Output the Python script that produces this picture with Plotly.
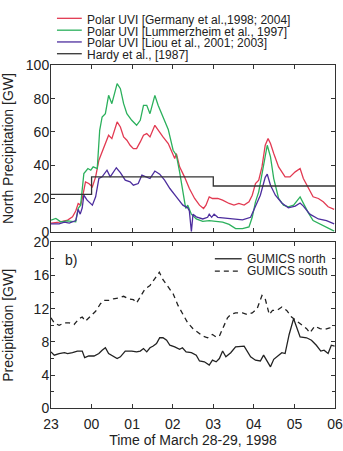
import plotly.graph_objects as go
from plotly.subplots import make_subplots

# ---------------- data ----------------
tick_labels = ["23", "00", "01", "02", "03", "04", "05", "06"]
tick_hours = [0, 1, 2, 3, 4, 5, 6, 7]

series_names = [
    "Polar UVI [Germany et al.,1998; 2004]",
    "Polar UVI [Lummerzheim et al., 1997]",
    "Polar UVI [Liou et al., 2001; 2003]",
    "Hardy et al., [1987]",
]
series_colors = ["#e23a52", "#2bb05c", "#4d2e9e", "#333333"]

germany_t = [0.00, 0.20, 0.41, 0.53, 0.61, 0.67, 0.73, 0.77, 0.85, 0.93, 1.02, 1.10, 1.18, 1.26, 1.34,
             1.42, 1.50, 1.63, 1.71, 1.79, 1.87, 1.95, 2.03, 2.11, 2.20, 2.28, 2.36, 2.44, 2.56, 2.64,
             2.76, 2.89, 2.97, 3.05, 3.09, 3.17, 3.29, 3.41, 3.54, 3.66, 3.76, 3.82, 3.90, 3.98, 4.11,
             4.23, 4.39, 4.51, 4.63, 4.76, 4.88, 4.96, 5.04, 5.12, 5.20, 5.28, 5.35, 5.41, 5.49, 5.61,
             5.77, 5.89, 6.02, 6.14, 6.22, 6.34, 6.46, 6.59, 6.71, 6.83, 6.98]
germany_v = [5.2, 5.8, 7, 9, 12.5, 17, 16, 20, 30, 29, 27, 33, 43, 48, 53,
             58, 56, 66, 63, 57, 55, 52, 50, 50, 54, 58, 59, 57, 64, 61,
             57, 53, 48, 44, 47, 39, 33, 26, 20, 16, 14, 16, 21, 20, 20,
             19, 17, 16, 17, 16, 18, 22, 29, 31, 39, 52, 56, 53, 47, 39,
             33, 33, 36, 38, 32, 26, 21, 20, 18, 15, 13.5]

lummer_t = [0.00, 0.12, 0.24, 0.41, 0.61, 0.67, 0.73, 0.77, 0.81, 0.91, 0.98, 1.04, 1.14, 1.20, 1.26,
            1.34, 1.42, 1.50, 1.63, 1.71, 1.79, 1.87, 1.99, 2.11, 2.20, 2.28, 2.36, 2.44, 2.56, 2.64,
            2.76, 2.89, 3.01, 3.09, 3.17, 3.25, 3.32, 3.37, 3.46, 3.58, 3.74, 3.90, 4.07, 4.23, 4.39,
            4.55, 4.72, 4.88, 4.96, 5.04, 5.12, 5.24, 5.33, 5.41, 5.49, 5.61, 5.73, 5.85, 5.98, 6.14,
            6.22, 6.34, 6.46, 6.63, 6.79, 6.98]
lummer_v = [7, 8, 6, 6.5, 6, 14, 16, 24, 35, 38, 37, 39, 38, 61, 69,
            71, 82, 77, 89, 86, 77, 71, 67, 64, 67, 76, 76, 71, 82, 76,
            69, 61.5, 49, 46, 36, 24, 14, 16, 10.6, 7.7, 6.3, 6.7, 6.3, 5.8, 4.4,
            1.9, 1.9, 2.9, 8.7, 18, 24, 41, 52, 45, 32, 20, 16, 15, 16, 21,
            17, 11.5, 6.7, 4.8, 2.9, 0.4]

liou_t = [0.00, 0.20, 0.33, 0.45, 0.61, 0.67, 0.72, 0.77, 0.81, 0.89, 1.02, 1.10, 1.18, 1.26, 1.38,
          1.46, 1.61, 1.71, 1.83, 1.95, 2.03, 2.15, 2.24, 2.36, 2.44, 2.56, 2.68, 2.80, 2.93, 3.09,
          3.25, 3.37, 3.41, 3.46, 3.50, 3.58, 3.74, 3.86, 3.90, 3.96, 4.02, 4.11, 4.23, 4.47, 4.72,
          4.92, 5.04, 5.16, 5.28, 5.33, 5.41, 5.53, 5.69, 5.85, 6.02, 6.14, 6.22, 6.38, 6.59, 6.79, 6.98]
liou_v = [4.8, 4.8, 5.8, 5.2, 6.7, 13.5, 10.6, 14.4, 22, 19, 16, 21, 32, 33, 37,
          33, 38.5, 35.6, 31, 30, 28, 29, 34, 33, 32, 36.5, 34.6, 31, 26, 21,
          16, 14.4, 12.5, 0, 10.6, 9, 7.7, 8.7, 10.6, 8.7, 10.6, 8.7, 8.3, 7.7, 7.1,
          8.7, 15.4, 22, 32.7, 34.6, 28, 22, 17.3, 14.4, 15.4, 17.3, 15.4, 10.6, 7.7, 6.7, 4.8]

hardy_t = [0, 1, 1, 4, 4, 7]
hardy_v = [22.5, 22.5, 33, 33, 27.5, 27.5]

gumics_names = ["GUMICS north", "GUMICS south"]

north_t = [0.00, 0.08, 0.20, 0.33, 0.41, 0.53, 0.65, 0.77, 0.83, 0.93, 1.06, 1.18, 1.26, 1.34, 1.42,
           1.54, 1.63, 1.71, 1.83, 1.99, 2.11, 2.20, 2.28, 2.36, 2.44, 2.52, 2.60, 2.68, 2.76, 2.85,
           2.93, 3.05, 3.17, 3.24, 3.33, 3.46, 3.58, 3.66, 3.78, 3.90, 3.98, 4.07, 4.15, 4.23, 4.31,
           4.43, 4.55, 4.76, 4.84, 4.92, 5.04, 5.16, 5.24, 5.33, 5.41, 5.49, 5.61, 5.69, 5.77, 5.87,
           5.98, 6.06, 6.14, 6.30, 6.42, 6.54, 6.65, 6.73, 6.83, 6.91, 6.99]
north_v = [6.8, 6.4, 6.6, 6.7, 6.6, 6.7, 6.9, 6.9, 6.1, 6.3, 6.3, 6.6, 7.0, 7.3, 6.6,
           6.2, 6.0, 6.2, 6.9, 6.9, 6.8, 6.9, 7.2, 6.8, 7.3, 7.5, 7.8, 8.5, 8.5, 8.2,
           7.6, 7.4, 7.1, 7.3, 6.8, 6.7, 6.4, 5.7, 5.6, 5.2, 5.8, 5.6, 6.0, 6.9, 6.2,
           6.7, 7.4, 7.5, 6.9, 6.2, 5.8, 5.7, 6.4, 5.6, 5.0, 5.9, 6.4, 6.7, 6.6, 8.9,
           10.8, 9.7, 8.6, 8.5, 8.2, 7.6, 6.9, 7.0, 6.6, 7.6, 7.5]

south_t = [0.00, 0.08, 0.20, 0.33, 0.45, 0.57, 0.69, 0.77, 0.85, 0.98, 1.10, 1.22, 1.30, 1.42, 1.54,
           1.67, 1.79, 1.91, 2.03, 2.11, 2.20, 2.32, 2.44, 2.56, 2.67, 2.76, 2.89, 3.01, 3.13, 3.25,
           3.37, 3.50, 3.62, 3.74, 3.86, 3.98, 4.07, 4.15, 4.24, 4.35, 4.43, 4.55, 4.72, 4.84, 4.96,
           5.08, 5.20, 5.28, 5.38, 5.46, 5.57, 5.69, 5.81, 5.93, 6.06, 6.18, 6.30, 6.38, 6.50, 6.63,
           6.75, 6.87, 6.98]
south_v = [10.9, 10.3, 10.0, 10.3, 10.3, 10.1, 10.8, 11.0, 10.5, 11.1, 11.7, 12.6, 13.0, 13.0, 13.2,
           13.3, 13.5, 13.2, 13.1, 12.7, 13.4, 14.4, 14.8, 15.7, 16.4, 15.5, 14.6, 13.8, 12.4, 11.3,
           10.3, 9.6, 9.1, 8.7, 8.5, 8.9, 8.6, 8.7, 9.7, 10.9, 11.3, 11.5, 11.5, 11.3, 11.5,
           12.0, 13.6, 13.2, 11.3, 11.8, 11.8, 12.2, 11.8, 11.0, 10.5, 10.1, 9.6, 9.1, 9.9, 9.6,
           9.5, 9.7, 9.9]

# ---------------- figure ----------------
W, H = 343, 451
ML, MR = 51, 6
FONT = "Liberation Sans, Arial, sans-serif"
AX = "#333333"


def px_x(px):
    return (px - ML) / (W - ML - MR)


def px_y(py):
    return 1 - py / H


fig = make_subplots(rows=2, cols=1)

top_series = [(germany_t, germany_v), (lummer_t, lummer_v), (liou_t, liou_v), (hardy_t, hardy_v)]
for (t, v), name, col in zip(top_series, series_names, series_colors):
    fig.add_trace(go.Scatter(x=t, y=v, mode="lines", name=name, showlegend=False,
                             line=dict(color=col, width=1.3)), row=1, col=1)

fig.add_trace(go.Scatter(x=north_t, y=north_v, mode="lines", name=gumics_names[0], showlegend=False,
                         line=dict(color="#222222", width=1.3)), row=2, col=1)
fig.add_trace(go.Scatter(x=south_t, y=south_v, mode="lines", name=gumics_names[1], showlegend=False,
                         line=dict(color="#222222", width=1.3, dash="5px,4px")), row=2, col=1)

xcommon = dict(range=[0, 7], tickvals=tick_hours, ticks="inside", ticklen=4, tickcolor=AX,
               showline=True, linecolor=AX, linewidth=1, mirror="ticks", showgrid=False,
               zeroline=False, tickfont=dict(size=14, color="#222"), domain=[0, 1])
fig.update_xaxes(**xcommon, showticklabels=False, row=1, col=1)
fig.update_xaxes(**xcommon, ticktext=tick_labels, showticklabels=True, ticklabeloverflow="allow",
                 ticklabelstandoff=3,
                 title=dict(text="Time of March 28-29, 1998", font=dict(size=14, color="#222"), standoff=1),
                 row=2, col=1)

ycommon = dict(ticks="inside", ticklen=4, tickcolor=AX, showline=True, linecolor=AX, linewidth=1,
               mirror="ticks", showgrid=False, zeroline=False, tickfont=dict(size=14, color="#222"),
               ticklabeloverflow="allow", ticklabelstandoff=-2)
fig.update_yaxes(**ycommon, range=[0, 100], tickvals=[0, 20, 40, 60, 80, 100],
                 domain=[px_y(232), px_y(59.5)],
                 title=dict(text="North Precipitation [GW]", font=dict(size=14, color="#222"), standoff=8),
                 row=1, col=1)
fig.update_yaxes(**ycommon, range=[0, 20], tickvals=[0, 4, 8, 12, 16, 20],
                 minor=dict(dtick=2, ticks="inside", ticklen=3, tickcolor=AX),
                 domain=[px_y(415), px_y(243)],
                 title=dict(text="Precipitation [GW]", font=dict(size=14, color="#222"), standoff=16),
                 row=2, col=1)

shapes = []
annotations = []
# top legend
top_leg_y = [10.7, 23.0, 35.2, 47.4]
for name, col, yy in zip(series_names, series_colors, top_leg_y):
    shapes.append(dict(type="line", xref="paper", yref="paper", x0=px_x(57), x1=px_x(82),
                       y0=px_y(yy), y1=px_y(yy), line=dict(color=col, width=1.3)))
    annotations.append(dict(text=name, xref="paper", yref="paper", x=px_x(85), y=px_y(yy + 1.5),
                            xanchor="left", yanchor="middle", showarrow=False,
                            font=dict(size=12, color="#222")))
# bottom legend
bot_leg_y = [260, 272.7]
for name, dash, yy in zip(gumics_names, ["solid", "5px,4px"], bot_leg_y):
    shapes.append(dict(type="line", xref="paper", yref="paper", x0=px_x(216), x1=px_x(243),
                       y0=px_y(yy), y1=px_y(yy), line=dict(color="#222222", width=1.3, dash=dash)))
    annotations.append(dict(text=name, xref="paper", yref="paper", x=px_x(246), y=px_y(yy),
                            xanchor="left", yanchor="middle", showarrow=False,
                            font=dict(size=12, color="#222")))
annotations.append(dict(text="b)", xref="paper", yref="paper", x=px_x(63), y=px_y(261),
                        xanchor="left", yanchor="middle", showarrow=False,
                        font=dict(size=14, color="#222")))

fig.update_layout(width=W, height=H, autosize=False,
                  margin=dict(l=ML, r=MR, t=0, b=0, pad=0),
                  paper_bgcolor="white", plot_bgcolor="white",
                  font=dict(family=FONT, size=14, color="#222"),
                  showlegend=False, shapes=shapes, annotations=annotations)

fig.write_html("out.html")
